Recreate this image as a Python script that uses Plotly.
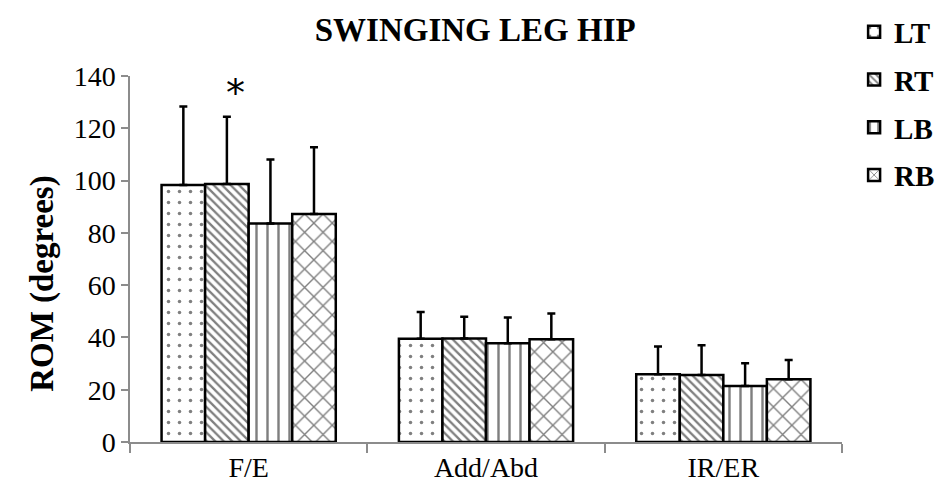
import plotly.graph_objects as go

# Range of motion of the swinging-leg hip, by movement plane
categories = ["F/E", "Add/Abd", "IR/ER"]
series_names = ["LT", "RT", "LB", "RB"]

lt_mean = [98.3, 39.5, 25.9]
rt_mean = [98.7, 39.6, 25.6]
lb_mean = [83.6, 37.8, 21.4]
rb_mean = [87.2, 39.3, 24.0]

lt_sd = [30.0, 10.2, 10.6]
rt_sd = [25.7, 8.3, 11.4]
lb_sd = [24.5, 9.8, 8.7]
rb_sd = [25.5, 9.9, 7.4]

means = [lt_mean, rt_mean, lb_mean, rb_mean]
sds = [lt_sd, rt_sd, lb_sd, rb_sd]

# fill pattern per series: (shape, size, solidity)
patterns = [(".", 11, 0.08), ("\\", 6, 0.38), ("|", 11, 0.22), ("x", 13, 0.2)]

SERIF = "Liberation Serif, Times New Roman, serif"

fig = go.Figure()
for i, name in enumerate(series_names):
    shape, size, solid = patterns[i]
    fig.add_trace(go.Bar(
        name=name,
        x=categories,
        y=means[i],
        legendgroup=name,
        marker=dict(
            color="white",
            line=dict(color="black", width=2.5),
            pattern=dict(shape=shape, size=size, solidity=solid,
                         fgcolor="black", bgcolor="white", fillmode="overlay"),
        ),
        error_y=dict(type="data", symmetric=False, array=sds[i],
                     arrayminus=[0] * len(categories),
                     color="black", thickness=2.5, width=4),
    ))

bargap = 0.266
n = len(series_names)
bar_w = (1 - bargap) / n
# significance marker over the RT bar of F/E
rt_offset = -(1 - bargap) / 2 + bar_w * 1.5
fig.add_annotation(x=0 + rt_offset, y=rt_mean[0] + rt_sd[0] + 9, xref="x", yref="y",
                   text="*", showarrow=False, xshift=9,
                   font=dict(family="DejaVu Sans", size=38, color="black"))

# vertical axis title
fig.add_annotation(x=-0.124, y=0.434, xref="paper", yref="paper",
                   text="ROM (degrees)", textangle=-90, showarrow=False,
                   xanchor="center", yanchor="middle",
                   font=dict(family=SERIF, size=33, color="black", weight="bold"))

fig.update_layout(
    width=941, height=498,
    margin=dict(l=130, r=99, t=76, b=56, autoexpand=False),
    paper_bgcolor="white", plot_bgcolor="white",
    barmode="group", bargap=bargap, bargroupgap=0,
    title=dict(text="SWINGING LEG HIP", x=0.505, xanchor="center",
               y=0.94, yanchor="middle",
               font=dict(family=SERIF, size=33, color="black", weight="bold")),
    font=dict(family=SERIF, color="black"),
    legend=dict(x=1.017, xanchor="left", y=1.19, yanchor="top",
                font=dict(family=SERIF, size=29, color="black", weight="bold"),
                tracegroupgap=7, bgcolor="rgba(0,0,0,0)",
                itemwidth=30),
    xaxis=dict(showline=True, linecolor="#8c8c8c", linewidth=1.5,
               ticks="outside", tickson="boundaries", ticklen=9,
               tickcolor="#8c8c8c", tickwidth=1.5,
               tickfont=dict(family=SERIF, size=28, color="black"),
               showgrid=False),
    yaxis=dict(range=[0, 140], dtick=20, showline=True, linecolor="#8c8c8c",
               linewidth=1.5, ticks="outside", ticklen=7, tickcolor="#8c8c8c",
               tickwidth=1.5, showgrid=False, zeroline=False,
               tickfont=dict(family=SERIF, size=28, color="black")),
)

fig.write_html("out.html")
